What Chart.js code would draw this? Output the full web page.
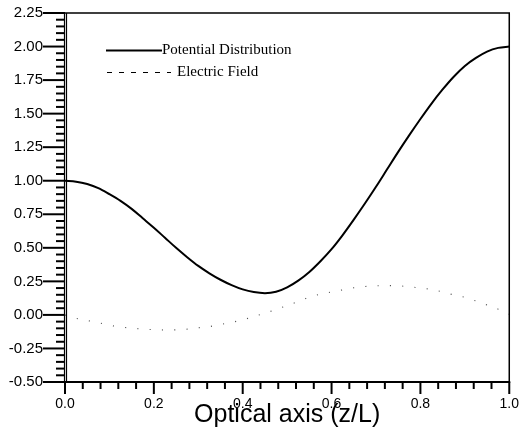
<!DOCTYPE html>
<html>
<head>
<meta charset="utf-8">
<script src="https://cdn.jsdelivr.net/npm/chart.js@4.4.1/dist/chart.umd.min.js"></script>
<style>
  html, body { margin: 0; padding: 0; background: #fff; }
  canvas { display: block; }
</style>
</head>
<body>
<canvas id="chart" width="525" height="430"></canvas>
<script>
/* sample positions along the optical axis (z/L) */
const zPos = [0, 0.025, 0.05, 0.075, 0.1, 0.125, 0.15, 0.175, 0.2, 0.225,
  0.25, 0.275, 0.3, 0.325, 0.35, 0.375, 0.4, 0.425, 0.45, 0.475,
  0.5, 0.525, 0.55, 0.575, 0.6, 0.625, 0.65, 0.675, 0.7, 0.725,
  0.75, 0.775, 0.8, 0.825, 0.85, 0.875, 0.9, 0.925, 0.95, 0.975, 1.0];

/* Potential Distribution (solid) */
const potential = [1.00, 0.993, 0.975, 0.945, 0.90, 0.85, 0.79, 0.72, 0.65, 0.575,
  0.50, 0.43, 0.365, 0.31, 0.262, 0.222, 0.19, 0.17, 0.162, 0.172,
  0.205, 0.255, 0.32, 0.40, 0.49, 0.595, 0.71, 0.83, 0.955, 1.085,
  1.215, 1.34, 1.46, 1.575, 1.68, 1.775, 1.855, 1.915, 1.962, 1.99, 2.00];

/* Electric Field (dotted) */
const field = [0.00, -0.025, -0.042, -0.057, -0.077, -0.090, -0.099, -0.105, -0.110, -0.112,
  -0.111, -0.106, -0.096, -0.087, -0.071, -0.055, -0.037, -0.012, 0.013, 0.040,
  0.070, 0.100, 0.132, 0.155, 0.171, 0.187, 0.202, 0.212, 0.217, 0.218,
  0.217, 0.209, 0.201, 0.189, 0.171, 0.149, 0.131, 0.104, 0.074, 0.043, 0.005];

const seriesNames = ["Potential Distribution", "Electric Field"];
const xTitle = "Optical axis (z/L)";

const toPoints = (vals) => zPos.map((z, i) => ({ x: z, y: vals[i] }));

/* frame, tick marks and in-plot legend */
const axisFrame = {
  id: "axisFrame",
  afterDraw(chart) {
    const { ctx, chartArea: a, scales: { x, y } } = chart;
    ctx.save();
    ctx.strokeStyle = "#000";

    // top and right border
    ctx.lineWidth = 1.5;
    ctx.beginPath();
    ctx.moveTo(a.left, a.top);
    ctx.lineTo(a.right, a.top);
    ctx.lineTo(a.right, a.bottom);
    ctx.stroke();

    // left axis (double line look)
    ctx.lineWidth = 1.2;
    ctx.beginPath();
    ctx.moveTo(a.left - 0.5, a.top); ctx.lineTo(a.left - 0.5, a.bottom);
    ctx.moveTo(a.left + 1.5, a.top); ctx.lineTo(a.left + 1.5, a.bottom);
    ctx.stroke();

    // bottom axis
    ctx.lineWidth = 2;
    ctx.beginPath();
    ctx.moveTo(a.left - 1, a.bottom); ctx.lineTo(a.right + 1, a.bottom);
    ctx.stroke();

    // y ticks: minor every 0.05, major every 0.25
    ctx.lineWidth = 2;
    for (let i = 0; i <= 55; i++) {
      const py = y.getPixelForValue(-0.5 + i * 0.05);
      const len = i % 5 === 0 ? 22 : 9;
      ctx.beginPath();
      ctx.moveTo(a.left - len, py);
      ctx.lineTo(a.left, py);
      ctx.stroke();
    }
    // x ticks: minor every 0.04, major every 0.2
    for (let i = 0; i <= 25; i++) {
      const px = x.getPixelForValue(i * 0.04);
      const len = i % 5 === 0 ? 12 : 7;
      ctx.beginPath();
      ctx.moveTo(px, a.bottom);
      ctx.lineTo(px, a.bottom + len);
      ctx.stroke();
    }

    // legend
    ctx.lineWidth = 2;
    ctx.beginPath();
    ctx.moveTo(106, 50.5); ctx.lineTo(162, 50.5);
    ctx.stroke();
    ctx.lineWidth = 1;
    ctx.setLineDash([5, 7]);
    ctx.beginPath();
    ctx.moveTo(107, 72.5); ctx.lineTo(171, 72.5);
    ctx.stroke();
    ctx.setLineDash([]);
    ctx.fillStyle = "#000";
    ctx.font = "15px 'Liberation Serif', 'Times New Roman', serif";
    ctx.textBaseline = "middle";
    ctx.fillText(seriesNames[0], 162, 50);
    ctx.fillText(seriesNames[1], 177, 72);
    ctx.restore();
  }
};

const config = {
  type: "line",
  data: {
    datasets: [
      {
        label: seriesNames[0],
        data: toPoints(potential),
        borderColor: "#000",
        borderWidth: 2,
        pointRadius: 0,
        cubicInterpolationMode: "monotone",
      },
      {
        label: seriesNames[1],
        data: toPoints(field),
        borderColor: "#555",
        borderWidth: 1.1,
        borderDash: [1.1, 11.2],
        pointRadius: 0,
        cubicInterpolationMode: "monotone",
      },
    ],
  },
  options: {
    responsive: false,
    animation: false,
    devicePixelRatio: 1,
    layout: { padding: { top: 13, right: 11, left: 0, bottom: 0 } },
    scales: {
      x: {
        type: "linear",
        min: 0,
        max: 1,
        afterFit: (s) => { s.height = 48; },
        border: { display: false },
        grid: { drawOnChartArea: false, color: "transparent", tickLength: 8 },
        ticks: {
          stepSize: 0.2,
          padding: 6,
          color: "#000",
          font: { family: "'Liberation Sans', Arial, sans-serif", size: 14 },
          callback: (v) => v.toFixed(1),
        },
        title: {
          display: true,
          text: xTitle,
          color: "#000",
          font: { family: "'Liberation Sans', Arial, sans-serif", size: 25 },
          padding: { top: 0, bottom: 0 },
        },
      },
      y: {
        min: -0.5,
        max: 2.25,
        afterFit: (s) => { s.width = 65; },
        border: { display: false },
        grid: { drawOnChartArea: false, color: "transparent", tickLength: 22 },
        ticks: {
          stepSize: 0.25,
          padding: 0,
          color: "#000",
          font: { family: "'Liberation Sans', Arial, sans-serif", size: 15 },
          callback: (v) => v.toFixed(2),
        },
      },
    },
    plugins: {
      legend: { display: false },
      tooltip: { enabled: false },
    },
  },
  plugins: [axisFrame],
};

new Chart(document.getElementById("chart"), config);
</script>
</body>
</html>
